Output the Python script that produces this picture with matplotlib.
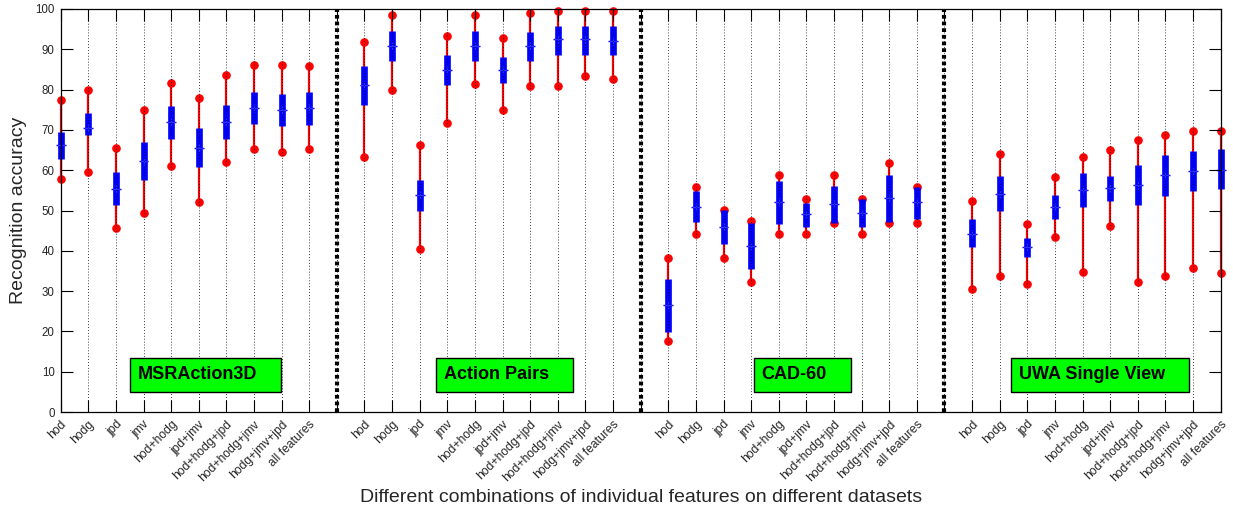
import matplotlib
matplotlib.use("Agg")
import matplotlib.pyplot as plt
import matplotlib.patches as mpatches
import numpy as np

plt.rcParams.update({
    'font.family': ['Liberation Sans', 'DejaVu Sans'],
    'font.size': 8.3,
})

# feature combinations (same order for every dataset)
features = ['hod', 'hodg', 'jpd', 'jmv', 'hod+hodg', 'jpd+jmv',
            'hod+hodg+jpd', 'hod+hodg+jmv', 'hodg+jmv+jpd', 'all features']
datasets = ['MSRAction3D', 'Action Pairs', 'CAD-60', 'UWA Single View']

# box statistics, one row per dataset
acc_min = [
    [57.7, 59.5, 45.7, 49.3, 61.1, 52.1, 62.1, 65.3, 64.6, 65.3],
    [63.3, 80.0, 40.5, 71.7, 81.5, 74.9, 81.0, 81.0, 83.3, 82.7],
    [17.5, 44.1, 38.3, 32.3, 44.1, 44.1, 47.0, 44.1, 47.0, 47.0],
    [30.6, 33.7, 31.8, 43.4, 34.7, 46.1, 32.2, 33.7, 35.7, 34.4],
]
acc_q1 = [
    [62.9, 68.7, 51.4, 57.6, 67.7, 60.7, 67.8, 71.4, 71.0, 71.3],
    [76.3, 87.2, 49.9, 81.1, 87.1, 81.7, 87.1, 88.7, 88.7, 88.5],
    [19.8, 47.1, 41.7, 35.4, 46.6, 46.0, 47.0, 46.0, 47.1, 47.9],
    [40.9, 49.9, 38.4, 48.0, 50.8, 52.4, 51.4, 53.7, 54.8, 55.3],
]
acc_median = [
    [66.3, 70.4, 55.3, 62.3, 71.9, 65.6, 71.9, 75.5, 74.9, 75.5],
    [81.1, 90.8, 53.8, 84.9, 90.8, 84.9, 90.8, 92.5, 92.5, 92.1],
    [26.6, 50.9, 46.0, 41.2, 52.1, 49.1, 51.5, 49.3, 53.0, 52.1],
    [44.2, 54.2, 40.9, 50.9, 55.0, 55.7, 56.3, 58.7, 59.9, 60.0],
]
acc_q3 = [
    [69.4, 74.3, 59.5, 67.1, 75.9, 70.4, 76.1, 79.3, 78.9, 79.5],
    [85.9, 94.6, 57.5, 88.5, 94.6, 88.2, 94.3, 95.9, 95.9, 95.7],
    [33.0, 54.8, 50.2, 47.0, 57.3, 51.9, 56.2, 52.8, 58.7, 55.8],
    [47.8, 58.6, 43.3, 53.8, 59.4, 58.6, 61.3, 63.8, 64.8, 65.3],
]
acc_max = [
    [77.4, 80.0, 65.4, 74.9, 81.7, 78.0, 83.5, 86.1, 86.1, 85.8],
    [91.7, 98.4, 66.2, 93.4, 98.4, 92.8, 98.9, 99.6, 99.6, 99.6],
    [38.3, 55.9, 50.2, 47.3, 58.8, 52.9, 58.8, 52.9, 61.7, 55.9],
    [52.4, 63.9, 46.7, 58.3, 63.2, 65.1, 67.6, 68.7, 69.8, 69.8],
]

# left edge (in x units) of each dataset name tag
tag_x = [3.51, 14.59, 26.11, 35.41]

n_feat = len(features)
step = n_feat + 1   # one empty slot between datasets for the separator

fig = plt.figure(figsize=(12.33, 5.11), dpi=100)
ax = fig.add_axes([0.0492, 0.1937, 0.9408, 0.7887])

tick_pos, tick_lab = [], []
for g, name in enumerate(datasets):
    x = np.arange(n_feat) + g * step + 1
    lo, q1, med, q3, hi = (np.array(a[g]) for a in (acc_min, acc_q1, acc_median, acc_q3, acc_max))

    # whiskers with end points
    ax.vlines(x, lo, hi, color='red', lw=1.6, zorder=2, clip_on=False)
    ax.plot(x, lo, 'o', color='red', ms=5.2, zorder=2.2, clip_on=False)
    ax.plot(x, hi, 'o', color='red', ms=5.2, zorder=2.2, clip_on=False)
    # interquartile box
    ax.vlines(x, q1, q3, color='blue', lw=4.8, zorder=2.3, clip_on=False)
    # median
    ax.hlines(med, x - 0.18, x + 0.18, color='blue', lw=1.0, zorder=2.4, clip_on=False)
    ax.plot(x, med, '+', color='#3030ff', ms=6, mew=0.8, zorder=2.4, clip_on=False)

    tick_pos += list(x)
    tick_lab += features
    if g < len(datasets) - 1:
        sep = (g + 1) * step
        ax.axvline(sep, color='black', lw=3.0, ls=(0, (0.9, 0.7)), zorder=3)
        tick_pos.append(sep)
        tick_lab.append('')

order = np.argsort(tick_pos)
tick_pos = [tick_pos[i] for i in order]
tick_lab = [tick_lab[i] for i in order]

x_max = len(datasets) * step - 1
ax.set_xlim(1, x_max)
ax.set_ylim(0, 100)
ax.set_yticks(np.arange(0, 101, 10))
ax.set_xticks(tick_pos)
ax.set_xticklabels(tick_lab, rotation=45, ha='right', va='top',
                   rotation_mode='anchor', fontsize=8.7)

ax.tick_params(axis='both', direction='in', length=8.4, width=0.8,
               top=True, right=True, colors='black', labelcolor='#262626')
ax.tick_params(axis='x', pad=4.5)
ax.tick_params(axis='y', pad=4.3)
ax.xaxis.grid(True, color='black', lw=0.6, ls=(0, (1, 2.5)))
ax.set_axisbelow(False)
for sp in ax.spines.values():
    sp.set_linewidth(0.9)

ax.set_ylabel('Recognition accuracy', fontsize=14, color='#262626', labelpad=6)
ax.set_xlabel('Different combinations of individual features on different datasets',
              fontsize=14, color='#262626', labelpad=4)

# dataset name tags: green boxes around bold labels
fig.canvas.draw()
renderer = fig.canvas.get_renderer()
to_data = ax.transData.inverted()
for name, x0 in zip(datasets, tag_x):
    x_px0 = ax.transData.transform((x0, 0))[0]
    x_txt = to_data.transform((x_px0 + 7.5, 0))[0]
    t = ax.text(x_txt, 9.2, name, fontsize=13, fontweight='bold',
                color='black', ha='left', va='center', zorder=5)
    bb = t.get_window_extent(renderer)
    x_end = to_data.transform((bb.x1 + 24.5, 0))[0]
    box = mpatches.Rectangle((x0, 4.9), x_end - x0, 8.6, facecolor='#00ff00',
                             edgecolor='black', lw=1.0, zorder=4)
    ax.add_patch(box)

fig.savefig('out.png', dpi=100)
